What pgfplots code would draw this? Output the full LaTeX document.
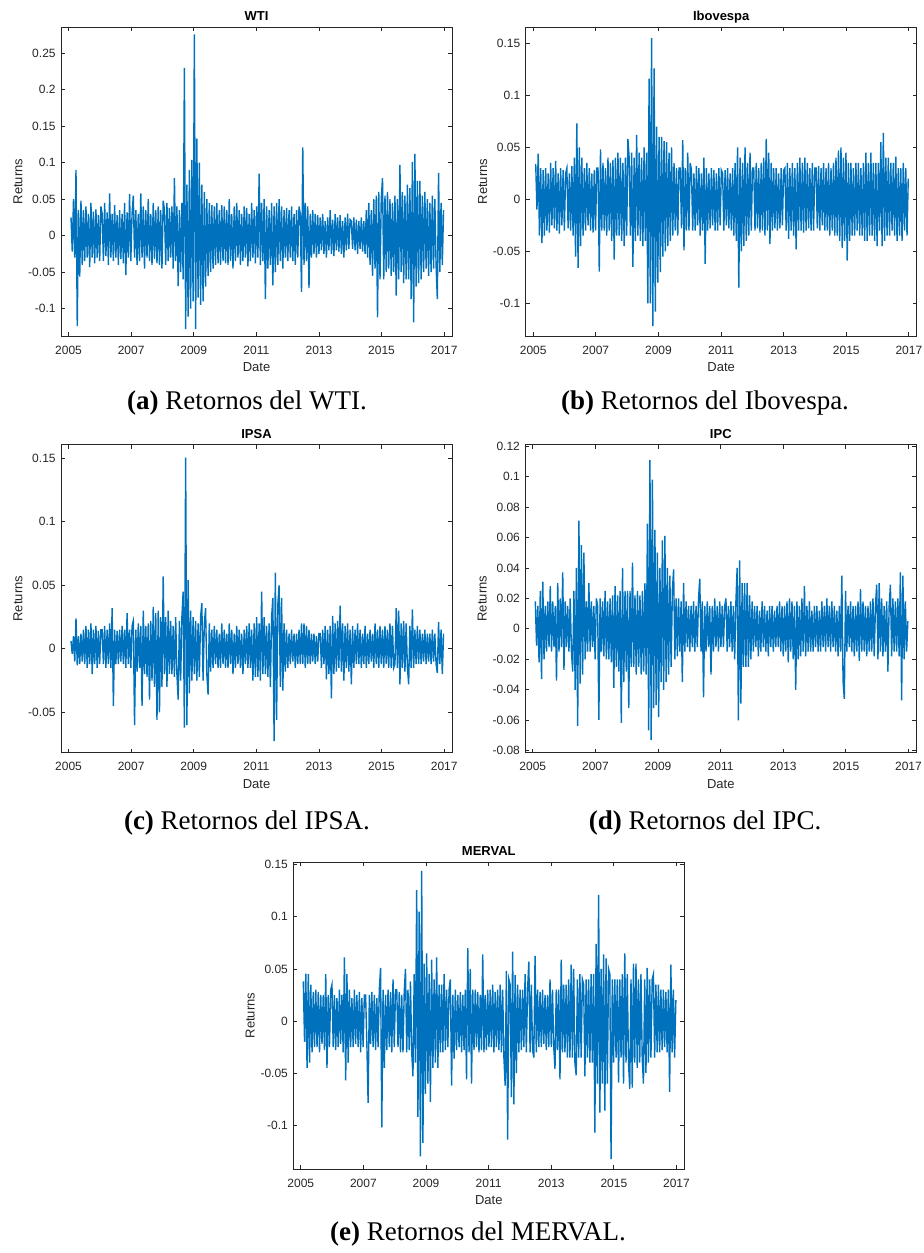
\documentclass[border=0pt]{standalone}
\usepackage{fontspec}
\setmainfont{Liberation Serif}
\newfontfamily\arial{Liberation Sans}
\usepackage{pgfplots}
\usepackage{pgfplotstable}
\pgfplotsset{compat=1.18}

\definecolor{mblue}{RGB}{0,114,189}
\definecolor{maxis}{RGB}{38,38,38}

% daily log returns (one value every ~0.04 yr from 2005.08)
\pgfplotstableread[row sep=\\]{
r\\
0.025\\ -0.022\\ 0.05\\ -0.03\\ 0.09\\ -0.124\\ 0.035\\ -0.056\\ 0.048\\ -0.04\\ 0.035\\ -0.035\\ 0.04\\ -0.03\\ 0.03\\ -0.043\\ 0.045\\ -0.03\\ 0.033\\ -0.038\\ 0.036\\ -0.03\\ 0.028\\ -0.035\\ 0.04\\
0.03\\ -0.035\\ 0.045\\ -0.028\\ 0.032\\ -0.04\\ 0.058\\ -0.03\\ 0.03\\ -0.035\\ 0.042\\ -0.03\\ 0.028\\ -0.04\\ 0.035\\ -0.032\\ 0.03\\ -0.038\\ 0.045\\ -0.054\\ 0.032\\ -0.03\\ 0.057\\ -0.035\\ 0.03\\
0.055\\ -0.03\\ 0.035\\ -0.04\\ 0.03\\ -0.035\\ 0.058\\ -0.03\\ 0.04\\ -0.045\\ 0.035\\ -0.03\\ 0.05\\ -0.035\\ 0.03\\ -0.04\\ 0.045\\ -0.032\\ 0.035\\ -0.038\\ 0.04\\ -0.04\\ 0.035\\ -0.045\\ 0.048\\
0.035\\ -0.04\\ 0.045\\ -0.035\\ 0.038\\ -0.03\\ 0.04\\ -0.045\\ 0.079\\ -0.035\\ 0.04\\ -0.069\\ 0.035\\ -0.05\\ 0.045\\ -0.06\\ 0.23\\ -0.128\\ 0.07\\ -0.111\\ 0.09\\ -0.1\\ 0.104\\ -0.09\\ 0.276\\
-0.128\\ 0.133\\ -0.085\\ 0.1\\ -0.095\\ 0.07\\ -0.09\\ 0.06\\ -0.07\\ 0.05\\ -0.055\\ 0.045\\ -0.05\\ 0.042\\ -0.045\\ 0.04\\ -0.04\\ 0.045\\ -0.038\\ 0.035\\ -0.04\\ 0.042\\ -0.035\\ 0.04\\ -0.038\\
0.035\\ -0.04\\ 0.05\\ -0.035\\ 0.03\\ -0.045\\ 0.04\\ -0.035\\ 0.045\\ -0.03\\ 0.035\\ -0.04\\ 0.03\\ -0.035\\ 0.04\\ -0.03\\ 0.038\\ -0.042\\ 0.03\\ -0.035\\ 0.045\\ -0.03\\ 0.035\\ -0.038\\ 0.04\\
-0.03\\ 0.085\\ -0.04\\ 0.045\\ -0.035\\ 0.05\\ -0.087\\ 0.04\\ -0.045\\ 0.035\\ -0.04\\ 0.045\\ -0.068\\ 0.04\\ -0.05\\ 0.045\\ -0.04\\ 0.05\\ -0.035\\ 0.04\\ -0.045\\ 0.035\\ -0.03\\ 0.038\\ -0.035\\
0.035\\ -0.03\\ 0.04\\ -0.035\\ 0.03\\ -0.04\\ 0.035\\ -0.03\\ 0.04\\ 0.03\\ -0.077\\ 0.121\\ -0.04\\ 0.045\\ -0.035\\ 0.04\\ -0.072\\ 0.03\\ -0.03\\ 0.035\\ -0.025\\ 0.03\\ -0.03\\ 0.028\\ -0.025\\
0.025\\ -0.02\\ 0.03\\ -0.025\\ 0.02\\ -0.03\\ 0.025\\ -0.02\\ 0.035\\ -0.025\\ 0.022\\ -0.028\\ 0.03\\ -0.02\\ 0.025\\ -0.022\\ 0.028\\ -0.025\\ 0.02\\ -0.03\\ 0.025\\ -0.02\\ 0.03\\ -0.018\\ 0.022\\
0.02\\ -0.018\\ 0.025\\ -0.02\\ 0.022\\ -0.025\\ 0.02\\ -0.018\\ 0.025\\ -0.022\\ 0.02\\ -0.025\\ 0.035\\ -0.03\\ 0.045\\ -0.04\\ 0.035\\ -0.055\\ 0.05\\ -0.045\\ 0.055\\ -0.112\\ 0.06\\ -0.06\\ 0.05\\
0.079\\ -0.06\\ 0.055\\ -0.05\\ 0.06\\ -0.045\\ 0.05\\ -0.055\\ 0.045\\ -0.05\\ 0.055\\ -0.082\\ 0.05\\ -0.06\\ 0.097\\ -0.05\\ 0.06\\ -0.065\\ 0.055\\ -0.06\\ 0.07\\ -0.06\\ 0.065\\ -0.087\\ 0.101\\
-0.119\\ 0.112\\ -0.07\\ 0.075\\ -0.065\\ 0.075\\ -0.06\\ 0.055\\ -0.05\\ 0.06\\ -0.045\\ 0.05\\ -0.055\\ 0.045\\ -0.05\\ 0.055\\ -0.045\\ 0.05\\ -0.04\\ -0.087\\ 0.086\\ -0.05\\ 0.045\\ -0.04\\ 0.035\\
}\wti

\pgfplotstableread[row sep=\\]{
r\\
0.034\\ -0.01\\ 0.044\\ -0.035\\ 0.03\\ -0.042\\ 0.028\\ -0.035\\ 0.03\\ -0.03\\ 0.025\\ -0.032\\ 0.035\\ -0.025\\ 0.03\\ -0.028\\ 0.037\\ -0.03\\ 0.025\\ -0.033\\ 0.03\\ -0.025\\ 0.028\\ -0.03\\ 0.025\\
0.03\\ -0.028\\ 0.025\\ -0.03\\ 0.032\\ -0.035\\ 0.04\\ -0.055\\ 0.073\\ -0.066\\ 0.05\\ -0.045\\ 0.04\\ -0.035\\ 0.03\\ -0.03\\ 0.035\\ -0.025\\ 0.03\\ -0.03\\ 0.025\\ -0.032\\ 0.028\\ -0.03\\ 0.03\\
0.03\\ -0.0695\\ 0.048\\ -0.03\\ 0.035\\ -0.03\\ 0.03\\ -0.035\\ 0.04\\ -0.03\\ 0.035\\ -0.04\\ 0.038\\ -0.058\\ 0.04\\ -0.035\\ 0.045\\ -0.035\\ 0.04\\ -0.04\\ 0.035\\ -0.045\\ 0.04\\ -0.035\\ 0.058\\
0.04\\ -0.035\\ 0.045\\ -0.065\\ 0.04\\ -0.04\\ 0.062\\ -0.035\\ 0.045\\ -0.04\\ 0.04\\ -0.045\\ 0.05\\ -0.04\\ 0.045\\ -0.1\\ 0.116\\ -0.1\\ 0.155\\ -0.122\\ 0.126\\ -0.108\\ 0.07\\ -0.08\\ 0.06\\
-0.07\\ 0.06\\ -0.055\\ 0.056\\ -0.05\\ 0.055\\ -0.045\\ 0.045\\ -0.04\\ 0.05\\ -0.035\\ 0.035\\ -0.03\\ 0.03\\ -0.035\\ 0.03\\ 0.03\\ -0.028\\ 0.057\\ -0.049\\ 0.03\\ -0.03\\ 0.045\\ -0.03\\ 0.035\\
0.028\\ -0.03\\ 0.025\\ -0.03\\ 0.032\\ -0.025\\ 0.03\\ -0.035\\ 0.025\\ -0.03\\ 0.04\\ -0.062\\ 0.03\\ -0.03\\ 0.025\\ -0.028\\ 0.03\\ -0.025\\ 0.028\\ -0.03\\ 0.025\\ -0.03\\ 0.03\\ -0.025\\ 0.028\\
0.025\\ -0.03\\ 0.028\\ -0.025\\ 0.03\\ -0.028\\ 0.025\\ -0.03\\ 0.03\\ -0.035\\ 0.035\\ -0.04\\ 0.05\\ -0.085\\ 0.04\\ -0.05\\ 0.035\\ -0.045\\ 0.05\\ -0.04\\ 0.035\\ -0.035\\ 0.045\\ -0.03\\ 0.03\\
0.03\\ -0.03\\ 0.035\\ -0.028\\ 0.03\\ -0.032\\ 0.035\\ -0.03\\ 0.04\\ -0.035\\ 0.058\\ -0.03\\ 0.045\\ -0.043\\ 0.035\\ -0.03\\ 0.03\\ -0.028\\ 0.03\\ -0.03\\ 0.025\\ -0.028\\ 0.03\\ -0.025\\ 0.028\\
0.03\\ -0.03\\ 0.035\\ -0.038\\ 0.03\\ -0.03\\ 0.035\\ -0.035\\ 0.03\\ -0.048\\ 0.035\\ -0.03\\ 0.04\\ -0.03\\ 0.035\\ -0.032\\ 0.04\\ -0.03\\ 0.035\\ -0.028\\ 0.03\\ -0.03\\ 0.035\\ -0.03\\ 0.03\\
0.03\\ -0.028\\ 0.032\\ -0.03\\ 0.03\\ -0.025\\ 0.035\\ -0.03\\ 0.03\\ -0.03\\ 0.035\\ -0.035\\ 0.03\\ -0.03\\ 0.035\\ -0.035\\ 0.04\\ -0.035\\ 0.047\\ -0.04\\ 0.05\\ -0.047\\ 0.04\\ -0.04\\ 0.045\\
-0.059\\ 0.035\\ -0.04\\ 0.035\\ -0.035\\ 0.03\\ -0.035\\ 0.035\\ -0.03\\ 0.035\\ -0.035\\ 0.03\\ -0.035\\ 0.035\\ -0.04\\ 0.045\\ -0.04\\ 0.035\\ -0.035\\ 0.045\\ -0.035\\ 0.035\\ -0.04\\ 0.035\\ -0.045\\
0.035\\ -0.03\\ 0.055\\ -0.045\\ 0.064\\ -0.04\\ 0.04\\ -0.035\\ 0.04\\ -0.035\\ 0.035\\ -0.03\\ 0.035\\ -0.035\\ 0.041\\ -0.04\\ 0.03\\ -0.035\\ 0.03\\ -0.04\\ 0.035\\ -0.03\\ 0.03\\ -0.035\\ 0.02\\
}\ibov

\pgfplotstableread[row sep=\\]{
r\\
0.006\\ -0.004\\ 0.01\\ -0.01\\ 0.024\\ -0.013\\ 0.01\\ -0.012\\ 0.012\\ -0.01\\ 0.015\\ -0.012\\ 0.018\\ -0.015\\ 0.015\\ -0.012\\ 0.02\\ -0.02\\ 0.015\\ -0.012\\ 0.018\\ -0.015\\ 0.014\\ -0.012\\ 0.015\\
0.015\\ -0.012\\ 0.018\\ -0.015\\ 0.015\\ -0.012\\ 0.02\\ -0.015\\ 0.032\\ -0.045\\ 0.015\\ -0.012\\ 0.014\\ -0.012\\ 0.015\\ -0.01\\ 0.018\\ -0.012\\ 0.015\\ -0.015\\ 0.028\\ -0.012\\ 0.015\\ -0.015\\ 0.018\\
0.022\\ -0.06\\ 0.015\\ -0.018\\ 0.02\\ -0.015\\ 0.018\\ -0.045\\ 0.03\\ -0.02\\ 0.018\\ -0.022\\ 0.02\\ -0.04\\ 0.022\\ -0.025\\ 0.033\\ -0.03\\ 0.028\\ -0.056\\ 0.03\\ -0.05\\ 0.025\\ -0.03\\ 0.057\\
-0.02\\ 0.025\\ -0.03\\ 0.03\\ -0.02\\ 0.022\\ -0.02\\ 0.018\\ -0.022\\ 0.025\\ -0.02\\ -0.04\\ 0.022\\ -0.025\\ 0.025\\ 0.045\\ -0.062\\ 0.1505\\ -0.06\\ 0.054\\ -0.035\\ 0.03\\ -0.025\\ 0.025\\ -0.02\\
0.022\\ -0.025\\ 0.02\\ -0.022\\ 0.025\\ 0.036\\ -0.025\\ 0.02\\ 0.032\\ -0.02\\ -0.036\\ 0.02\\ -0.018\\ 0.015\\ -0.015\\ 0.018\\ -0.012\\ 0.015\\ -0.015\\ 0.012\\ -0.015\\ 0.02\\ -0.012\\ 0.015\\ -0.015\\
0.012\\ -0.015\\ 0.02\\ -0.012\\ 0.015\\ -0.02\\ 0.012\\ -0.015\\ 0.018\\ -0.012\\ 0.015\\ -0.015\\ 0.012\\ -0.02\\ 0.015\\ -0.012\\ 0.018\\ -0.015\\ 0.02\\ -0.015\\ 0.015\\ -0.025\\ 0.02\\ -0.022\\ 0.025\\
-0.022\\ 0.02\\ -0.025\\ 0.045\\ -0.02\\ 0.025\\ -0.02\\ 0.018\\ -0.022\\ 0.02\\ -0.03\\ 0.025\\ 0.04\\ -0.0726\\ 0.06\\ -0.056\\ 0.035\\ 0.05\\ -0.03\\ 0.04\\ -0.033\\ 0.02\\ -0.018\\ 0.015\\ -0.015\\
0.012\\ -0.012\\ 0.015\\ -0.01\\ 0.012\\ -0.015\\ 0.012\\ -0.012\\ 0.015\\ -0.012\\ 0.02\\ -0.012\\ 0.02\\ -0.015\\ 0.018\\ -0.012\\ 0.015\\ -0.012\\ 0.012\\ -0.01\\ 0.012\\ -0.012\\ 0.01\\ -0.01\\ 0.012\\
0.012\\ -0.015\\ 0.015\\ -0.012\\ 0.018\\ -0.024\\ 0.015\\ -0.02\\ 0.018\\ -0.039\\ 0.026\\ -0.02\\ 0.02\\ -0.018\\ 0.022\\ -0.015\\ 0.034\\ -0.018\\ 0.02\\ -0.025\\ 0.018\\ -0.015\\ 0.02\\ -0.018\\ 0.015\\
-0.028\\ 0.018\\ -0.015\\ 0.015\\ -0.012\\ 0.02\\ -0.012\\ 0.015\\ -0.015\\ 0.012\\ -0.012\\ 0.018\\ -0.015\\ 0.012\\ -0.012\\ 0.015\\ -0.01\\ 0.012\\ -0.015\\ 0.02\\ -0.012\\ 0.015\\ -0.015\\ 0.018\\ -0.012\\
0.015\\ -0.015\\ 0.018\\ -0.012\\ 0.015\\ -0.015\\ 0.02\\ -0.015\\ 0.018\\ -0.015\\ -0.012\\ 0.032\\ -0.015\\ 0.03\\ -0.028\\ 0.02\\ -0.015\\ 0.022\\ -0.018\\ 0.02\\ -0.015\\ -0.028\\ 0.018\\ -0.015\\ 0.031\\
-0.015\\ 0.015\\ -0.012\\ 0.018\\ -0.012\\ 0.015\\ -0.012\\ 0.012\\ -0.01\\ 0.015\\ -0.012\\ 0.012\\ -0.01\\ 0.012\\ -0.012\\ 0.015\\ -0.01\\ 0.012\\ -0.012\\ -0.019\\ 0.021\\ -0.012\\ 0.015\\ -0.02\\ 0.012\\
}\ipsa

\pgfplotstableread[row sep=\\]{
r\\
0.018\\ -0.011\\ 0.015\\ -0.022\\ 0.025\\ -0.033\\ 0.031\\ -0.02\\ 0.015\\ -0.015\\ 0.018\\ -0.012\\ 0.028\\ -0.015\\ 0.018\\ -0.012\\ 0.015\\ -0.034\\ 0.03\\ -0.015\\ 0.02\\ -0.012\\ 0.037\\ -0.027\\ 0.018\\
-0.012\\ 0.015\\ -0.015\\ 0.02\\ -0.015\\ -0.028\\ 0.025\\ -0.04\\ 0.04\\ -0.0637\\ 0.071\\ -0.036\\ 0.055\\ -0.03\\ 0.05\\ -0.02\\ 0.018\\ -0.015\\ 0.03\\ -0.015\\ 0.018\\ -0.012\\ 0.015\\ -0.02\\ 0.02\\
0.015\\ -0.0598\\ 0.02\\ -0.015\\ 0.018\\ -0.018\\ 0.025\\ -0.02\\ 0.018\\ -0.02\\ 0.02\\ -0.022\\ 0.022\\ -0.0387\\ 0.028\\ -0.025\\ 0.022\\ -0.028\\ 0.025\\ -0.0617\\ 0.04\\ -0.035\\ 0.025\\ -0.028\\ 0.025\\
-0.052\\ 0.025\\ -0.025\\ 0.0435\\ -0.025\\ 0.022\\ -0.03\\ 0.025\\ -0.025\\ 0.022\\ -0.03\\ 0.025\\ -0.028\\ 0.03\\ -0.03\\ 0.069\\ -0.0667\\ 0.111\\ -0.073\\ 0.098\\ -0.052\\ 0.065\\ -0.05\\ 0.05\\ -0.058\\
0.04\\ -0.035\\ 0.058\\ -0.04\\ 0.061\\ -0.035\\ 0.04\\ -0.03\\ 0.035\\ -0.025\\ 0.025\\ 0.039\\ -0.02\\ 0.02\\ -0.018\\ 0.02\\ -0.015\\ 0.018\\ -0.035\\ 0.03\\ -0.015\\ 0.018\\ -0.012\\ 0.015\\ -0.015\\
0.015\\ -0.012\\ 0.018\\ -0.015\\ 0.015\\ -0.012\\ 0.02\\ 0.033\\ -0.015\\ 0.018\\ -0.045\\ 0.015\\ -0.015\\ 0.018\\ -0.012\\ 0.015\\ -0.03\\ 0.015\\ -0.015\\ 0.02\\ -0.012\\ 0.015\\ -0.015\\ 0.018\\ -0.012\\
0.015\\ -0.012\\ 0.015\\ 0.02\\ -0.015\\ 0.015\\ -0.012\\ 0.018\\ -0.015\\ 0.015\\ -0.02\\ 0.018\\ 0.04\\ -0.06\\ 0.045\\ -0.049\\ 0.03\\ -0.025\\ 0.03\\ -0.025\\ 0.03\\ -0.025\\ 0.022\\ -0.02\\ 0.018\\
-0.015\\ 0.015\\ -0.012\\ 0.015\\ -0.018\\ 0.012\\ -0.015\\ 0.018\\ -0.012\\ 0.015\\ -0.015\\ 0.012\\ -0.018\\ 0.015\\ -0.012\\ 0.015\\ -0.015\\ 0.012\\ -0.012\\ 0.015\\ -0.012\\ 0.018\\ -0.015\\ 0.015\\ -0.018\\
0.015\\ -0.015\\ 0.018\\ -0.022\\ 0.02\\ -0.015\\ 0.018\\ -0.02\\ 0.015\\ -0.04\\ 0.018\\ -0.02\\ 0.015\\ -0.018\\ 0.02\\ -0.015\\ 0.028\\ -0.018\\ 0.015\\ -0.015\\ 0.018\\ -0.015\\ 0.012\\ -0.015\\ 0.015\\
-0.012\\ 0.015\\ -0.015\\ 0.012\\ -0.015\\ 0.018\\ -0.012\\ 0.015\\ -0.015\\ 0.02\\ -0.012\\ 0.015\\ -0.015\\ 0.018\\ -0.012\\ 0.015\\ -0.015\\ 0.012\\ -0.018\\ 0.015\\ -0.015\\ 0.035\\ -0.034\\ -0.046\\ 0.025\\
-0.015\\ 0.015\\ -0.012\\ 0.018\\ -0.015\\ 0.015\\ -0.018\\ 0.015\\ -0.015\\ 0.018\\ -0.021\\ 0.026\\ -0.015\\ 0.018\\ -0.015\\ 0.015\\ -0.018\\ 0.015\\ -0.015\\ 0.018\\ -0.015\\ 0.02\\ -0.018\\ 0.015\\ 0.029\\
-0.02\\ 0.03\\ -0.015\\ 0.02\\ -0.018\\ 0.015\\ -0.015\\ 0.018\\ -0.028\\ 0.015\\ 0.029\\ -0.018\\ 0.02\\ -0.015\\ 0.018\\ -0.015\\ 0.02\\ -0.018\\ 0.037\\ -0.047\\ 0.035\\ -0.02\\ 0.018\\ -0.015\\ 0.005\\
}\ipc

\pgfplotstableread[row sep=\\]{
r\\
0.038\\ -0.02\\ 0.0455\\ -0.045\\ 0.045\\ -0.04\\ 0.035\\ -0.03\\ 0.028\\ -0.025\\ 0.03\\ -0.025\\ 0.028\\ -0.03\\ 0.025\\ -0.022\\ 0.025\\ -0.028\\ 0.045\\ -0.045\\ 0.025\\ -0.025\\ 0.03\\ 0.035\\ -0.025\\
0.025\\ -0.028\\ 0.022\\ -0.025\\ 0.03\\ -0.022\\ 0.025\\ -0.03\\ 0.061\\ -0.057\\ 0.045\\ -0.04\\ 0.03\\ -0.025\\ 0.022\\ -0.025\\ 0.03\\ -0.022\\ 0.025\\ -0.025\\ 0.028\\ -0.03\\ 0.022\\ -0.025\\ 0.025\\
0.025\\ -0.022\\ -0.0785\\ 0.025\\ -0.022\\ 0.028\\ -0.025\\ 0.025\\ -0.028\\ 0.022\\ -0.025\\ 0.03\\ 0.051\\ -0.102\\ 0.03\\ -0.045\\ 0.025\\ -0.028\\ 0.03\\ -0.025\\ 0.028\\ -0.03\\ 0.04\\ -0.025\\ 0.03\\
0.03\\ -0.025\\ 0.028\\ -0.03\\ 0.025\\ -0.03\\ 0.028\\ 0.05\\ -0.03\\ 0.03\\ -0.028\\ 0.038\\ -0.03\\ -0.053\\ 0.045\\ -0.04\\ 0.1255\\ -0.092\\ 0.105\\ -0.13\\ 0.144\\ -0.117\\ 0.055\\ -0.07\\ 0.065\\
-0.06\\ 0.045\\ -0.0775\\ 0.059\\ -0.045\\ 0.04\\ -0.04\\ 0.061\\ -0.045\\ 0.035\\ -0.03\\ 0.035\\ -0.03\\ 0.045\\ -0.028\\ 0.03\\ -0.025\\ 0.03\\ 0.04\\ -0.062\\ 0.025\\ -0.036\\ 0.03\\ -0.028\\ 0.025\\
-0.025\\ 0.028\\ -0.03\\ 0.025\\ -0.028\\ 0.03\\ -0.056\\ 0.07\\ -0.03\\ 0.05\\ -0.06\\ 0.03\\ -0.028\\ 0.03\\ -0.025\\ 0.028\\ -0.03\\ 0.025\\ -0.028\\ 0.064\\ -0.03\\ 0.025\\ -0.028\\ 0.03\\ -0.025\\
0.03\\ -0.025\\ 0.035\\ -0.03\\ 0.028\\ -0.025\\ 0.03\\ -0.028\\ 0.035\\ -0.03\\ 0.03\\ -0.035\\ -0.062\\ 0.048\\ -0.1137\\ 0.04\\ 0.035\\ -0.073\\ 0.0665\\ -0.08\\ 0.044\\ -0.05\\ 0.035\\ -0.03\\ 0.03\\
-0.028\\ 0.03\\ -0.025\\ 0.045\\ -0.03\\ 0.03\\ 0.057\\ -0.03\\ 0.035\\ -0.028\\ -0.035\\ 0.0625\\ -0.03\\ 0.03\\ -0.025\\ 0.028\\ -0.025\\ 0.03\\ -0.022\\ 0.025\\ -0.028\\ 0.025\\ -0.025\\ 0.04\\ -0.025\\
0.03\\ -0.025\\ -0.046\\ 0.03\\ -0.028\\ 0.03\\ -0.056\\ 0.059\\ -0.03\\ 0.035\\ -0.03\\ 0.035\\ -0.035\\ 0.04\\ -0.035\\ 0.054\\ -0.035\\ 0.05\\ -0.04\\ -0.052\\ 0.04\\ -0.035\\ 0.045\\ -0.035\\ 0.04\\
0.035\\ -0.053\\ 0.04\\ -0.035\\ 0.04\\ -0.04\\ 0.045\\ -0.04\\ 0.045\\ -0.107\\ 0.074\\ -0.06\\ 0.121\\ -0.088\\ 0.05\\ -0.06\\ 0.064\\ -0.086\\ 0.06\\ -0.06\\ 0.05\\ 0.045\\ -0.1325\\ 0.04\\ -0.04\\
0.04\\ -0.035\\ 0.04\\ -0.059\\ 0.04\\ -0.035\\ 0.045\\ -0.06\\ 0.065\\ -0.04\\ 0.045\\ -0.04\\ -0.065\\ 0.04\\ -0.064\\ 0.055\\ -0.04\\ 0.055\\ -0.045\\ 0.04\\ -0.04\\ 0.045\\ -0.035\\ -0.06\\ 0.04\\
-0.05\\ 0.051\\ -0.04\\ 0.04\\ -0.035\\ 0.04\\ 0.045\\ -0.035\\ 0.035\\ -0.03\\ 0.035\\ -0.03\\ 0.03\\ -0.028\\ 0.03\\ -0.025\\ 0.028\\ -0.03\\ 0.03\\ -0.068\\ 0.054\\ -0.03\\ 0.03\\ -0.035\\ 0.02\\
}\merval

\pgfplotsset{
  retstyle/.style={
    scale only axis, width=195.5pt,
    xmin=2004.76, xmax=2017.25,
    xtick={2005,2007,2009,2011,2013,2015,2017},
    xticklabels={2005,2007,2009,2011,2013,2015,2017},
    axis line style={maxis, line width=0.4pt},
    tick style={maxis, line width=0.4pt},
    major tick length=2pt,
    tick align=inside,
    ticklabel style={font=\arial\fontsize{6}{7}\selectfont, text=maxis},
    x tick label style={anchor=center, yshift=-7pt},
    y tick label style={anchor=east, inner sep=0pt, xshift=-2.5pt},
    label style={font=\arial\fontsize{6.5}{7.5}\selectfont, text=maxis},
    xlabel={Date}, ylabel={Returns},
    x label style={at={(axis description cs:0.5,0)}, anchor=center, yshift=-15.5pt},
    y label style={at={(axis description cs:0,0.5)}, anchor=center, yshift=21.5pt},
    every axis title shift=0pt,
    title style={font=\arial\bfseries\fontsize{6.5}{7.5}\selectfont, at={(axis description cs:0.5,1)}, anchor=base, yshift=3.2pt},
    anchor=south west,
  },
  retline/.style={mblue, line width=0.7pt, no markers},
}

\begin{document}
\begin{tikzpicture}
\useasboundingbox (0,0) rectangle (462pt,626.5pt);

\begin{axis}[retstyle, at={(30.5pt,458.5pt)}, height=154.5pt, title={WTI},
  ymin=-0.1375, ymax=0.286,
  ytick={-0.1,-0.05,0,0.05,0.1,0.15,0.2,0.25},
  yticklabels={-0.1,-0.05,0,0.05,0.1,0.15,0.2,0.25}]
\addplot[retline] table[x expr=2005.08+\coordindex*0.0398, y=r] {\wti};
\end{axis}

\begin{axis}[retstyle, at={(262.85pt,458.5pt)}, height=154.5pt, title={Ibovespa},
  ymin=-0.1314, ymax=0.1657,
  ytick={-0.1,-0.05,0,0.05,0.1,0.15},
  yticklabels={-0.1,-0.05,0,0.05,0.1,0.15}]
\addplot[retline] table[x expr=2005.08+\coordindex*0.0398, y=r] {\ibov};
\end{axis}

\begin{axis}[retstyle, at={(30.5pt,250.15pt)}, height=154pt, title={IPSA},
  ymin=-0.0818, ymax=0.1607,
  ytick={-0.05,0,0.05,0.1,0.15},
  yticklabels={-0.05,0,0.05,0.1,0.15}]
\addplot[retline] table[x expr=2005.08+\coordindex*0.0398, y=r] {\ipsa};
\end{axis}

\begin{axis}[retstyle, at={(262.65pt,250.15pt)}, height=154pt, title={IPC},
  ymin=-0.0813, ymax=0.1209,
  ytick={-0.08,-0.06,-0.04,-0.02,0,0.02,0.04,0.06,0.08,0.1,0.12},
  yticklabels={-0.08,-0.06,-0.04,-0.02,0,0.02,0.04,0.06,0.08,0.1,0.12}]
\addplot[retline] table[x expr=2005.08+\coordindex*0.0398, y=r] {\ipc};
\end{axis}

\begin{axis}[retstyle, at={(146.65pt,42pt)}, height=153.5pt, title={MERVAL},
  ymin=-0.142, ymax=0.1526,
  ytick={-0.1,-0.05,0,0.05,0.1,0.15},
  yticklabels={-0.1,-0.05,0,0.05,0.1,0.15}]
\addplot[retline] table[x expr=2005.08+\coordindex*0.0398, y=r] {\merval};
\end{axis}

\begin{scope}[every node/.style={anchor=base, inner sep=0pt, font=\fontsize{13.5}{16}\selectfont}]
\node at (123.5pt,421.5pt) {\textbf{(a)} Retornos del WTI.};
\node at (352.5pt,421.5pt) {\textbf{(b)} Retornos del Ibovespa.};
\node at (123.5pt,211.5pt) {\textbf{(c)} Retornos del IPSA.};
\node at (352.5pt,211.5pt) {\textbf{(d)} Retornos del IPC.};
\node at (239pt,6pt) {\textbf{(e)} Retornos del MERVAL.};
\end{scope}
\end{tikzpicture}
\end{document}
